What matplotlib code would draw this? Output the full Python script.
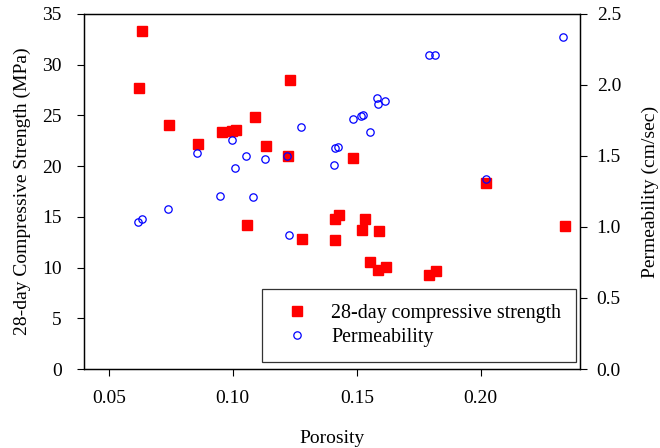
import numpy as np
import matplotlib.pyplot as plt

plt.rcParams['font.family'] = ['Liberation Serif', 'DejaVu Serif']
plt.rcParams['font.size'] = 14

# 28-day compressive strength (MPa) vs porosity
por_s = [0.0632, 0.0620, 0.0741, 0.0858, 0.0955, 0.0998, 0.1011, 0.1088, 0.1132,
         0.1221, 0.1231, 0.1485, 0.2022, 0.1056, 0.1278, 0.1414, 0.1427, 0.1414,
         0.1532, 0.1519, 0.1589, 0.1555, 0.1587, 0.1619, 0.1793, 0.1821, 0.2339]
strength = [33.3, 27.7, 24.1, 22.2, 23.4, 23.5, 23.6, 24.8, 22.0,
            21.0, 28.5, 20.8, 18.3, 14.2, 12.8, 14.8, 15.2, 12.75,
            14.8, 13.7, 13.6, 10.55, 9.8, 10.1, 9.3, 9.65, 14.1]

# permeability (cm/sec) vs porosity
por_p = [0.0619, 0.0632, 0.0739, 0.0855, 0.0950, 0.0996, 0.1008, 0.1054, 0.1082,
         0.1130, 0.1219, 0.1227, 0.1273, 0.1410, 0.1411, 0.1425, 0.1483, 0.1515,
         0.1527, 0.1554, 0.1582, 0.1585, 0.1614, 0.1790, 0.1817, 0.2019, 0.2333]
perm = [1.033, 1.058, 1.129, 1.523, 1.221, 1.613, 1.418, 1.502, 1.214,
        1.479, 1.500, 0.946, 1.702, 1.437, 1.556, 1.566, 1.758, 1.784,
        1.786, 1.669, 1.908, 1.868, 1.887, 2.213, 2.213, 1.338, 2.340]

fig = plt.figure(figsize=(6.6, 4.48), dpi=100)
ax = fig.add_axes([84/660, 1 - 369/448, 496/660, 355/448])
ax2 = ax.twinx()

h1, = ax.plot(por_s, strength, 's', color='#ff0000', ms=6.8, mec='#ff0000',
              label='28-day compressive strength', zorder=3)
h2, = ax2.plot(por_p, perm, 'o', mfc='none', mec='#0000ff', ms=5.3, mew=0.9,
               label='Permeability', zorder=4)

ax.set_xlim(0.04, 0.24)
ax.set_ylim(0, 35)
ax2.set_ylim(0, 2.5)
ax.set_xticks([0.05, 0.10, 0.15, 0.20])
ax.set_xticklabels(['0.05', '0.10', '0.15', '0.20'])
ax.set_yticks(np.arange(0, 36, 5))
ax2.set_yticks([0.0, 0.5, 1.0, 1.5, 2.0, 2.5])
ax2.set_yticklabels(['0.0', '0.5', '1.0', '1.5', '2.0', '2.5'])

for a in (ax, ax2):
    a.tick_params(direction='out', length=5, width=0.8)
    for s in a.spines.values():
        s.set_linewidth(0.9)
ax.tick_params(axis='y', pad=11)
ax.tick_params(axis='x', pad=10)
ax2.tick_params(axis='y', pad=7)

ax.set_xlabel('Porosity', labelpad=17)
ax.set_ylabel('28-day Compressive Strength (MPa)', labelpad=8)
ax2.set_ylabel('Permeability (cm/sec)', labelpad=15)

leg = ax2.legend(handles=[h1, h2], loc='lower right', fontsize=14.4,
                 bbox_to_anchor=(0.992, 0.02), borderaxespad=0,
                 frameon=True, fancybox=False, edgecolor='black',
                 borderpad=0.75, handletextpad=0.7, handlelength=2.0,
                 labelspacing=0.25)
leg.get_frame().set_linewidth(0.9)

fig.savefig('out.png', dpi=100)
